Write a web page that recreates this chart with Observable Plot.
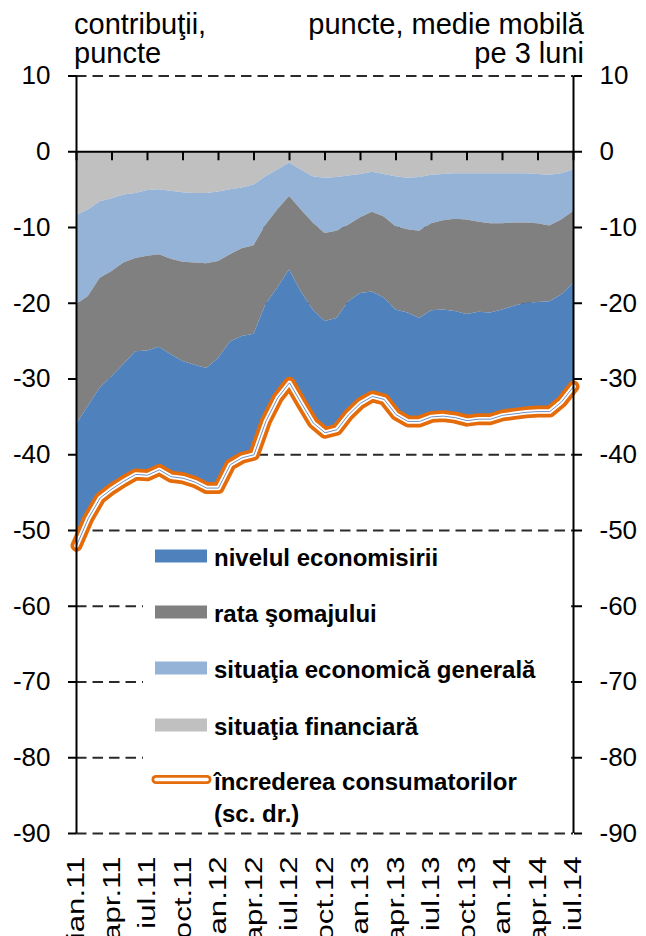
<!DOCTYPE html>
<html>
<head>
<meta charset="utf-8">
<script src="https://cdn.jsdelivr.net/npm/d3@7"></script>
<script src="https://cdn.jsdelivr.net/npm/@observablehq/plot@0.6"></script>
<style>
html, body { margin: 0; padding: 0; background: #fff; }
#chart { width: 646px; height: 936px; overflow: hidden; }
</style>
</head>
<body>
<div id="chart"></div>
<script>
// ---- categories ----
const monthNames = ["ian","feb","mar","apr","mai","iun","iul","aug","sep","oct","nov","dec"];
const months = d3.range(43).map(i => monthNames[i % 12] + "." + (11 + Math.floor(i / 12)));
const tickMonths = d3.range(0, 43, 3);
const yTicks = d3.range(-90, 11, 10);

// ---- series (contributions, points) ----
const seriesNames = ["situaţia financiară", "situaţia economică generală", "rata şomajului", "nivelul economisirii"];
const seriesColors = ["#c0c0c0", "#95b3d7", "#808080", "#4f81bd"];

const situatiaFinanciara = [-8.4,-7.7,-6.6,-6.2,-5.7,-5.5,-5.1,-5.0,-5.2,-5.4,-5.5,-5.5,-5.3,-5.0,-4.8,-4.4,-3.3,-2.4,-1.5,-2.4,-3.3,-3.5,-3.4,-3.2,-3.0,-2.7,-3.0,-3.3,-3.5,-3.4,-3.1,-3.0,-2.9,-2.9,-2.9,-2.9,-2.9,-2.9,-2.9,-3.0,-3.1,-2.9,-2.4];
const situatiaEconomica = [-11.8,-11.4,-10.1,-9.6,-9.0,-8.6,-8.7,-8.6,-9.0,-9.2,-9.2,-9.3,-9.2,-8.6,-8.0,-8.0,-6.4,-5.3,-4.4,-5.3,-6.1,-7.3,-7.1,-6.5,-5.7,-5.3,-5.6,-6.6,-6.8,-7.1,-6.4,-6.1,-6.0,-6.1,-6.4,-6.6,-6.6,-6.5,-6.5,-6.5,-6.7,-6.1,-5.5];
const rataSomajului = [-15.8,-14.5,-14.5,-13.9,-13.4,-12.3,-12.5,-12.2,-12.6,-13.1,-13.5,-13.8,-12.8,-11.5,-11.6,-11.7,-10.5,-10.3,-9.7,-10.8,-11.5,-11.6,-11.5,-10.1,-10.0,-10.5,-10.7,-11.0,-11.0,-11.5,-11.5,-11.8,-12.2,-12.5,-11.9,-11.8,-11.4,-11.0,-10.6,-10.4,-10.0,-9.9,-9.5];
const nivelulEconomisirii = [-16.0,-14.8,-14.5,-14.8,-15.4,-16.2,-16.4,-16.2,-16.1,-15.4,-15.4,-15.8,-17.1,-16.2,-16.0,-15.9,-15.4,-14.5,-14.9,-14.7,-14.9,-14.7,-14.7,-14.9,-14.5,-13.8,-13.4,-13.8,-14.3,-13.6,-14.0,-14.0,-14.0,-14.0,-14.1,-14.0,-13.9,-14.2,-14.4,-14.4,-14.5,-14.1,-13.6];

// ---- consumer confidence (right scale, points, 3-month moving average) ----
const increderea = [-52.0,-48.4,-45.7,-44.5,-43.5,-42.6,-42.7,-42.0,-42.9,-43.1,-43.6,-44.4,-44.4,-41.3,-40.4,-40.0,-35.6,-32.5,-30.5,-33.2,-35.8,-37.1,-36.7,-34.7,-33.2,-32.3,-32.7,-34.7,-35.6,-35.6,-35.0,-34.9,-35.1,-35.5,-35.3,-35.3,-34.8,-34.6,-34.4,-34.3,-34.3,-33.0,-31.0];

const lineName = "încrederea consumatorilor";
const lineColor = "#e46c0a";

// ---- build tables ----
const seriesValues = [situatiaFinanciara, situatiaEconomica, rataSomajului, nivelulEconomisirii];
const stacked = [];
seriesNames.forEach((name, s) => {
  seriesValues[s].forEach((v, i) => stacked.push({i, series: name, value: v}));
});
const lineData = increderea.map((v, i) => ({i, value: v}));

const FONT = "'Liberation Sans', Arial, Helvetica, sans-serif";

const plot = Plot.plot({
  width: 646,
  height: 936,
  marginLeft: 76,
  marginRight: 73,
  marginTop: 75.5,
  marginBottom: 103,
  style: {fontFamily: FONT, background: "#fff", color: "#000", overflow: "visible"},
  x: {domain: [0, 42], label: null},
  y: {domain: [-90, 10], label: null},
  color: {domain: seriesNames, range: seriesColors},
  marks: [
    Plot.ruleY(yTicks.filter(d => d !== 0), {stroke: "#2a2a2a", strokeWidth: 2, strokeDasharray: "10.5,6"}),
    Plot.areaY(stacked, {x: "i", y: "value", z: "series", fill: "series"}),
    Plot.lineY(lineData, {x: "i", y: "value", stroke: lineColor, strokeWidth: 12, strokeLinejoin: "round"}),
    Plot.lineY(lineData, {x: "i", y: "value", stroke: "#ffffff", strokeWidth: 4.5, strokeLinejoin: "round"}),
    Plot.lineY(lineData, {x: "i", y: "value", stroke: "#6f8fc0", strokeWidth: 1, strokeLinejoin: "round"}),
    Plot.ruleY([0], {stroke: "#000", strokeWidth: 2}),
    Plot.ruleX(tickMonths, {y1: 0, y2: 0, insetBottom: -9, stroke: "#000", strokeWidth: 2}),
    Plot.ruleX([0, 42], {stroke: "#000", strokeWidth: 2}),
    Plot.axisY({anchor: "left", ticks: yTicks, tickFormat: d => String(d), tickSize: 8, tickPadding: 18, fontSize: 26, strokeWidth: 2, label: null}),
    Plot.axisY({anchor: "right", ticks: yTicks, tickFormat: d => String(d), tickSize: 8, tickPadding: 18, fontSize: 26, strokeWidth: 2, label: null}),
    Plot.axisX({anchor: "bottom", ticks: tickMonths, tickFormat: i => months[i], tickRotate: -90, tickSize: 0, tickPadding: 23, fontSize: 24, label: null})
  ]
});

document.getElementById("chart").appendChild(plot);

const svg = d3.select(plot);

// stretch rotated x labels along their length to match the reference
svg.selectAll('g[aria-label="x-axis tick label"] text').each(function () {
  const t = this.getAttribute("transform");
  if (t) this.setAttribute("transform", t + " scale(1.3,1)");
});

// ---- headers ----
const hdr = svg.append("g").attr("font-family", FONT).attr("font-size", 29).attr("fill", "#000").attr("text-anchor", "start");
hdr.append("text").attr("x", 74).attr("y", 34).attr("text-anchor", "start").text("contribuţii,");
hdr.append("text").attr("x", 74).attr("y", 63).attr("text-anchor", "start").text("puncte");
hdr.append("text").attr("x", 584).attr("y", 34).attr("text-anchor", "end").text("puncte, medie mobilă");
hdr.append("text").attr("x", 584).attr("y", 63).attr("text-anchor", "end").text("pe 3 luni");

// ---- legend (with white background box, as in the reference) ----
const legendOrder = [3, 2, 1, 0];
const leg = svg.append("g").attr("font-family", FONT).attr("font-size", 24).attr("font-weight", "bold").attr("fill", "#000").attr("text-anchor", "start");
leg.append("rect").attr("x", 143).attr("y", 538).attr("width", 428).attr("height", 290).attr("fill", "#fff");
const rowCy = [556, 612, 668, 725];
legendOrder.forEach((s, k) => {
  leg.append("rect").attr("x", 155).attr("y", rowCy[k] - 6.5).attr("width", 52).attr("height", 13).attr("fill", seriesColors[s]);
  leg.append("text").attr("x", 214).attr("y", rowCy[k] + 10).attr("text-anchor", "start").text(seriesNames[s]);
});
leg.append("line").attr("x1", 156).attr("x2", 207).attr("y1", 779.5).attr("y2", 779.5)
  .attr("stroke", lineColor).attr("stroke-width", 9).attr("stroke-linecap", "round");
leg.append("line").attr("x1", 156).attr("x2", 207).attr("y1", 779.5).attr("y2", 779.5)
  .attr("stroke", "#fff").attr("stroke-width", 3.5).attr("stroke-linecap", "round");
leg.append("text").attr("x", 214).attr("y", 790).attr("text-anchor", "start").text(lineName);
leg.append("text").attr("x", 214).attr("y", 822).attr("text-anchor", "start").text("(sc. dr.)");
</script>
</body>
</html>
